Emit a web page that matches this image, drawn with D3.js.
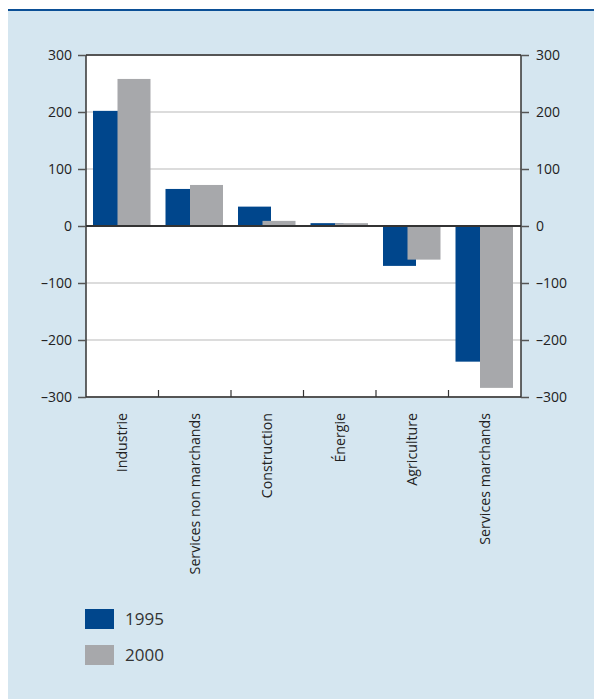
<!DOCTYPE html>
<html>
<head>
<meta charset="utf-8">
<script src="https://cdn.jsdelivr.net/npm/d3@7"></script>
<style>
  html, body { margin: 0; padding: 0; background: #ffffff; }
  svg { display: block; }
  text { font-family: "Open Sans", "Noto Sans", sans-serif; }
</style>
</head>
<body>
<svg id="chart" width="594" height="699"></svg>
<script>
// Sectors and their net change, two reference years
const categories = ["Industrie", "Services non marchands", "Construction", "Énergie", "Agriculture", "Services marchands"];
const series1995 = [202, 65, 34, 5, -70, -238];
const series2000 = [258, 72, 9, 5, -59, -284];
const seriesNames = ["1995", "2000"];
const yTicks = [-300, -200, -100, 0, 100, 200, 300];

const colors = { "1995": "#00468c", "2000": "#a7a8ab" };

const svg = d3.select("#chart");

// Panel background and top rule
svg.append("rect").attr("x", 8).attr("y", 10).attr("width", 586).attr("height", 689).attr("fill", "#d5e6f0");
svg.append("rect").attr("x", 8).attr("y", 9).attr("width", 586).attr("height", 2).attr("fill", "#0b4f96");

const plot = { left: 86, right: 521, top: 55, bottom: 397 };

const x = d3.scaleBand().domain(categories).range([plot.left, plot.right]);
const y = d3.scaleLinear().domain([-300, 300]).range([plot.bottom, plot.top]);

// Plot area
svg.append("rect")
  .attr("x", plot.left).attr("y", plot.top)
  .attr("width", plot.right - plot.left).attr("height", plot.bottom - plot.top)
  .attr("fill", "#ffffff");

// Horizontal grid lines
svg.append("g").selectAll("line")
  .data(yTicks.filter(v => v !== 0 && Math.abs(v) !== 300))
  .join("line")
  .attr("x1", plot.left).attr("x2", plot.right)
  .attr("y1", d => y(d)).attr("y2", d => y(d))
  .attr("stroke", "#b9b9b9").attr("stroke-width", 1.2);

// Bars: the second series overlaps the first one slightly
const barW = 33, offset = 24.5, pad = 7;
const rows = categories.map((c, i) => ({ c, v: [series1995[i], series2000[i]] }));

seriesNames.forEach((name, s) => {
  svg.append("g").selectAll("rect")
    .data(rows)
    .join("rect")
    .attr("x", d => x(d.c) + pad + s * offset)
    .attr("y", d => y(Math.max(0, d.v[s])))
    .attr("width", barW)
    .attr("height", d => Math.abs(y(d.v[s]) - y(0)))
    .attr("fill", colors[name]);
});

// Frame
const frame = svg.append("g").attr("fill", "none");
frame.append("line").attr("x1", plot.left).attr("x2", plot.right).attr("y1", plot.top).attr("y2", plot.top)
  .attr("stroke", "#555").attr("stroke-width", 2);
frame.append("line").attr("x1", plot.left).attr("x2", plot.right).attr("y1", plot.bottom).attr("y2", plot.bottom)
  .attr("stroke", "#555").attr("stroke-width", 2);
frame.append("line").attr("x1", plot.left).attr("x2", plot.left).attr("y1", plot.top).attr("y2", plot.bottom)
  .attr("stroke", "#333").attr("stroke-width", 1.5);
frame.append("line").attr("x1", plot.right).attr("x2", plot.right).attr("y1", plot.top).attr("y2", plot.bottom)
  .attr("stroke", "#333").attr("stroke-width", 1.5);
// Zero line
svg.append("line").attr("x1", plot.left).attr("x2", plot.right).attr("y1", y(0)).attr("y2", y(0))
  .attr("stroke", "#333").attr("stroke-width", 2);

// Y axes on both sides
const fmt = d => d < 0 ? "\u2013" + Math.abs(d) : String(d);
const leftAxis = svg.append("g").attr("transform", `translate(${plot.left},0)`)
  .call(d3.axisLeft(y).tickValues(yTicks).tickFormat(fmt).tickSize(8).tickPadding(6));
const rightAxis = svg.append("g").attr("transform", `translate(${plot.right},0)`)
  .call(d3.axisRight(y).tickValues(yTicks).tickFormat(fmt).tickSize(8).tickPadding(7));
[leftAxis, rightAxis].forEach(g => {
  g.select(".domain").remove();
  g.selectAll(".tick line").attr("stroke", "#555").attr("stroke-width", 1.5);
  g.selectAll(".tick text").attr("fill", "#222").attr("font-size", 14)
    .attr("font-family", "'Open Sans', 'Noto Sans', sans-serif");
});

// Category separators along the bottom, pointing inward
svg.append("g").selectAll("line")
  .data(categories.slice(1))
  .join("line")
  .attr("x1", d => x(d)).attr("x2", d => x(d))
  .attr("y1", plot.bottom).attr("y2", plot.bottom - 7)
  .attr("stroke", "#333").attr("stroke-width", 1.2);

// Rotated category labels
svg.append("g").selectAll("text")
  .data(categories)
  .join("text")
  .attr("transform", d => `translate(${x(d) + x.bandwidth() / 2 + 5},413) rotate(-90)`)
  .attr("text-anchor", "end")
  .attr("fill", "#222")
  .attr("font-size", 14.2)
  .text(d => d);

// Legend
const legend = svg.append("g");
seriesNames.forEach((name, i) => {
  const ly = 609 + i * 36;
  legend.append("rect").attr("x", 85).attr("y", ly).attr("width", 29).attr("height", 20).attr("fill", colors[name]);
  legend.append("text").attr("x", 125).attr("y", ly + 16).attr("font-size", 17).attr("fill", "#333").text(name);
});
</script>
</body>
</html>
